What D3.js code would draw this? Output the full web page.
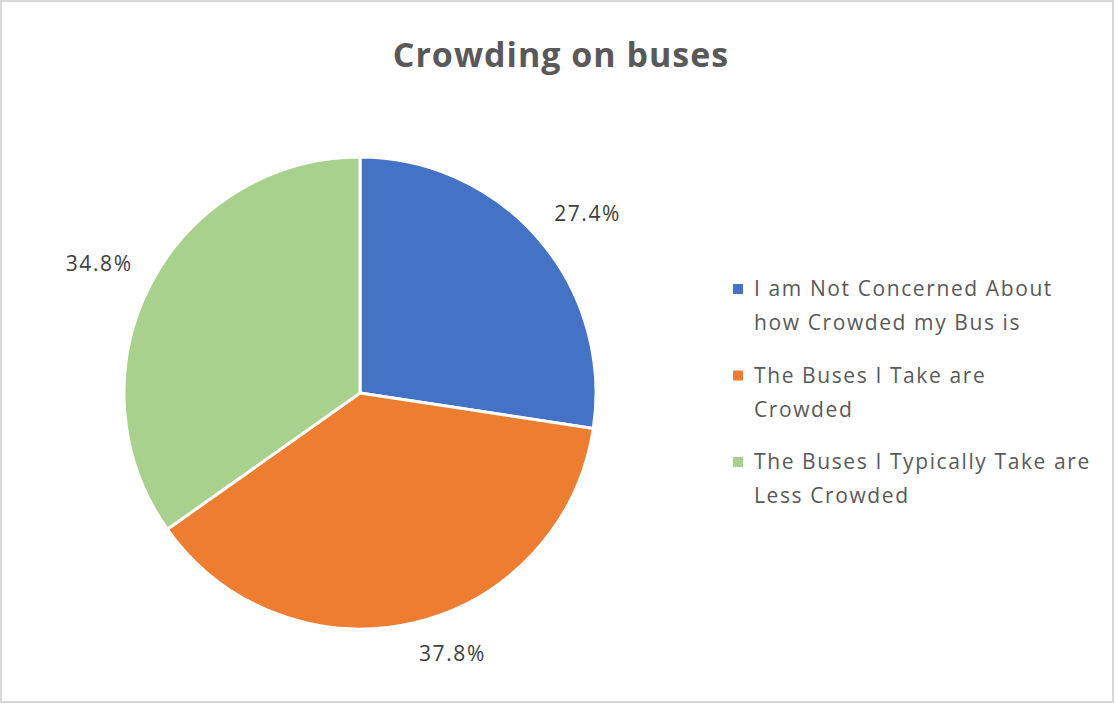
<!DOCTYPE html>
<html><head><meta charset="utf-8">
<script src="https://cdn.jsdelivr.net/npm/d3@7"></script>
<style>body{margin:0;background:#fff}svg{display:block}</style>
</head><body>
<script>
const categories = ["I am Not Concerned About how Crowded my Bus is", "The Buses I Take are Crowded", "The Buses I Typically Take are Less Crowded"];
const legendLines = [["I am Not Concerned About", "how Crowded my Bus is"], ["The Buses I Take are", "Crowded"], ["The Buses I Typically Take are", "Less Crowded"]];
const values = [27.4, 37.8, 34.8];
const labels = ["27.4%", "37.8%", "34.8%"];
const colors = ["#4472C4", "#ED7D31", "#A9D18E"];
const title = "Crowding on buses";

const W = 1115, H = 704;
const font = "'Open Sans', sans-serif";
const svg = d3.select("body").append("svg").attr("width", W).attr("height", H);
svg.append("rect").attr("x", 1).attr("y", 1).attr("width", W - 3).attr("height", H - 3)
  .attr("fill", "#fff").attr("stroke", "#d9d9d9").attr("stroke-width", 2);

svg.append("text").attr("x", 561).attr("y", 67).attr("text-anchor", "middle")
  .attr("font-family", font).attr("font-weight", "bold").attr("font-size", 34)
  .attr("letter-spacing", 1)
  .attr("fill", "#595959").text(title);

const cx = 360, cy = 393, r = 236;
const pie = d3.pie().sort(null).value(d => d);
const arcs = pie(values);
const arc = d3.arc().innerRadius(0).outerRadius(r);
const g = svg.append("g").attr("transform", `translate(${cx},${cy})`);
g.selectAll("path").data(arcs).join("path")
  .attr("d", arc).attr("fill", (d, i) => colors[i])
  .attr("stroke", "#fff").attr("stroke-width", 3).attr("stroke-linejoin", "round");
const gap = 20, boxH = 24;
g.selectAll("text").data(arcs).join("text")
  .attr("text-anchor", "middle").attr("dy", "0.35em")
  .attr("font-family", font).attr("font-size", 21).attr("letter-spacing", 1.6)
  .attr("fill", "#404040")
  .text((d, i) => labels[i])
  .attr("transform", function(d) {
    const a = (d.startAngle + d.endAngle) / 2;
    const s = Math.sin(a), c = Math.cos(a);
    const w = this.getComputedTextLength();
    const px = s * (r + gap), py = -c * (r + gap);
    return `translate(${px + Math.sign(s) * w / 2},${py - Math.sign(c) * boxH / 2})`;
  });

const lg = svg.append("g").attr("transform", "translate(733,0)");
const ly = d3.scalePoint().domain(categories).range([289, 462]);
categories.forEach((c, i) => {
  const y = ly(c);
  lg.append("rect").attr("x", 0).attr("y", y - 5).attr("width", 10).attr("height", 10).attr("fill", colors[i]);
  legendLines[i].forEach((t, j) => {
    lg.append("text").attr("x", 21).attr("y", y + j * 34).attr("dy", "0.35em")
      .attr("font-family", font).attr("font-size", 21).attr("letter-spacing", 1.6)
      .attr("fill", "#595959").text(t);
  });
});
</script>
</body></html>
